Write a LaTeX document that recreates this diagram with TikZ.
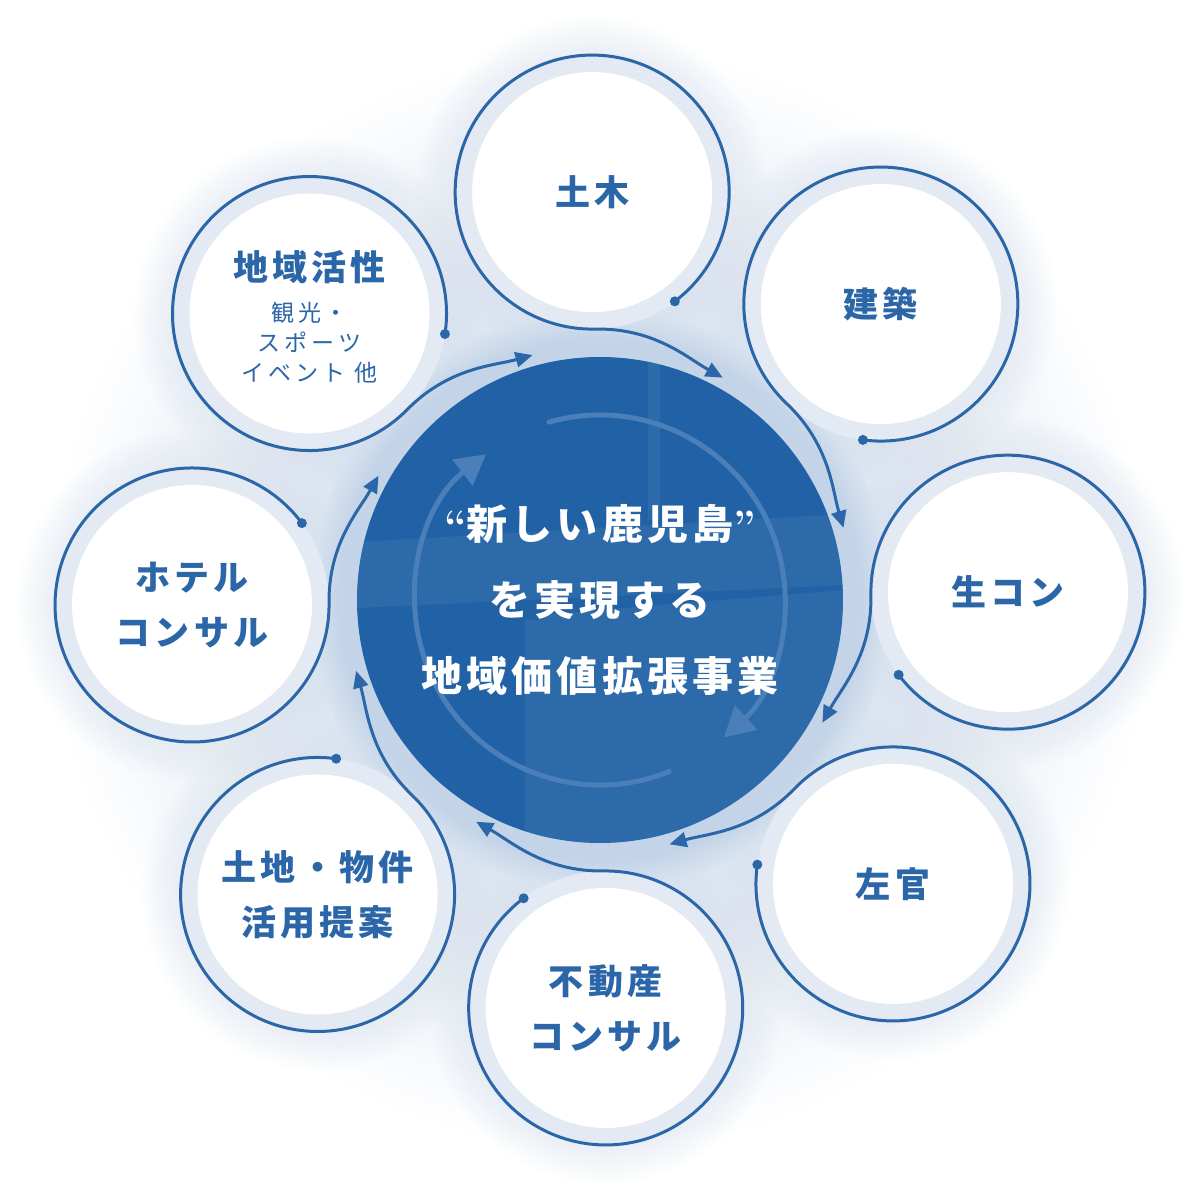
\documentclass[tikz,border=0pt]{standalone}
\usepackage{fontspec}
\newfontfamily\jp{Noto Sans CJK JP}[LetterSpace=12]
\newfontfamily\jpsub{Noto Sans CJK JP}[LetterSpace=17]
\newfontfamily\jphub{Noto Sans CJK JP}[LetterSpace=10]
\usetikzlibrary{arrows.meta,calc}
\definecolor{mainblue}{HTML}{2B66A8}
\definecolor{hubblue}{HTML}{2162A6}
\definecolor{ringc}{HTML}{E3EAF3}
\definecolor{hubring}{HTML}{C3D4E8}
\definecolor{glowc}{HTML}{D9E3EF}
\definecolor{arcblue}{HTML}{4A7FBA}
\pgfdeclareradialshading{bigglow}{\pgfpoint{0bp}{0bp}}{color(0bp)=(glowc); color(11bp)=(glowc); color(23bp)=(white); color(50bp)=(white)}
\pgfdeclareradialshading{hubglow}{\pgfpoint{0bp}{0bp}}{color(0bp)=(hubring); color(22.5bp)=(hubring); color(25bp)=(glowc); color(50bp)=(glowc)}
\tikzset{
  bubble/.style={circle, minimum size=240pt, inner sep=0pt, outer sep=0pt, fill=white,
    preaction={draw=ringc, line width=34pt}, text=mainblue, align=center,
    font=\jp\bfseries\fontsize{35}{55}\selectfont},
  titletext/.style={inner sep=0pt, text=mainblue, font=\jp\bfseries\fontsize{35}{40}\selectfont},
  subtext/.style={inner sep=0pt, text=mainblue, align=center, font=\jpsub\fontsize{23}{30}\selectfont},
  hub/.style={circle, minimum size=486pt, inner sep=0pt, outer sep=0pt, fill=hubblue},
  hubtext/.style={inner sep=0pt, text=white, align=center, font=\jphub\bfseries\fontsize{41}{76}\selectfont},
  conn/.style={draw=mainblue, line width=3pt, -{Triangle[length=17pt,width=15pt]}},
  hubarc/.style={draw=arcblue, line width=5pt, line cap=round, -{Triangle[length=30pt,width=32pt]}},
  hubband/.style={fill=white, opacity=0.05},
  softglow/.style={fill=glowc, fill opacity=0.07},
}
\begin{document}
\begin{tikzpicture}[x=1pt,y=1pt]
\useasboundingbox (-600,-600) rectangle (600,600);
\fill[white] (-600,-600) rectangle (600,600);
% glows
\shade[shading=bigglow] (0,0) circle (600);
\foreach \a in {91.1,46.5,1.1,-44.1,-89.2,-133.8,180.7,135.4}
  \foreach \r in {140,145,...,175}
    \fill[softglow] (\a:408) circle (\r);
\shade[shading=hubglow] (0,0) circle (290);
% hub
\node[hub] (hub) at (0,0) {};
\begin{scope}
  \clip (0,0) circle (243);
  \fill[hubband] (-243,58) -- (245,86) -- (245,15) -- (-243,-8) -- cycle;
  \fill[hubband] (48,245) rectangle (60,80);
  \fill[hubband] (-75,-20) rectangle (-62,-245);
  \fill[hubband] (-62,-15) -- (245,10) -- (245,-245) -- (-62,-245) -- cycle;
\end{scope}
\draw[hubarc] (106:185) arc[start angle=106, end angle=-48, radius=185];
\draw[hubarc] (-68:185) arc[start angle=-68, end angle=-232, radius=185];
\node[hubtext] (title) at (0,0) {{\rmfamily“}新しい鹿児島{\rmfamily”}\\を実現する\\地域価値拡張事業};
% bubbles
\node[bubble] (c1) at (91.1:408) {土木};
\node[bubble] (c2) at (46.5:408) {建築};
\node[bubble] (c3) at (1.1:408) {生コン};
\node[bubble] (c4) at (-44.1:408) {左官};
\node[bubble] (c5) at (-89.2:408) {不動産\\コンサル};
\node[bubble] (c6) at (-133.8:408) {土地・物件\\活用提案};
\node[bubble] (c7) at (180.7:408) {ホテル\\コンサル};
\node[bubble] (c8) at (135.4:408) {};
\node[titletext] (t8) at ($(c8)+(0,46.5)$) {地域活性};
\node[subtext] (s8) at ($(c8)+(0,-29.5)$) {観光・\\スポーツ\\イベント 他};
% connectors
\foreach \n/\a in {c1/91.1, c2/46.5, c3/1.1, c4/-44.1, c5/-89.2, c6/-133.8, c7/180.7, c8/135.4} {
  \path (\n.center) ++(\a-144:137) coordinate (\n-dot);
  \coordinate (\n-tip) at (\a-30:254);
  \draw[conn] (\n-dot) arc[start angle=\a-144, end angle=\a+180, radius=137]
     .. controls +(\a-90:60) and +(\a+60:40) .. (\n-tip);
  \fill[mainblue] (\n-dot) circle (5);
}
\end{tikzpicture}
\end{document}
